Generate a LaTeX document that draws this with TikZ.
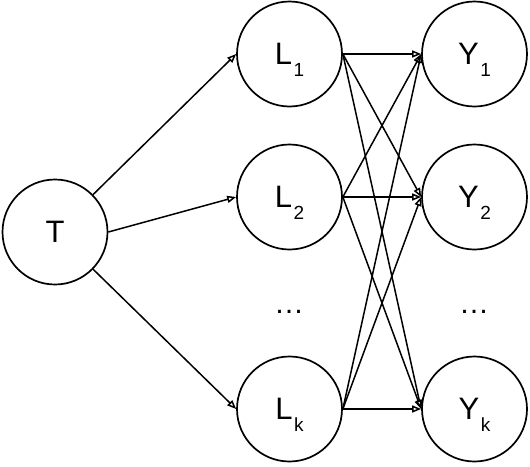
\documentclass[tikz,border=0pt]{standalone}
\usepackage{fontspec}
\setmainfont{Liberation Sans}
\usetikzlibrary{arrows.meta}
\newcommand{\lowsub}[1]{\kern1.5pt\raisebox{-12pt}[0pt][0pt]{\fontsize{19}{19}\selectfont #1}}
\tikzset{
	varnode/.style={
			circle,
			draw=black,
			line width=1.7pt,
			fill=white,
			minimum size=105pt,
			inner sep=0pt,
			font=\fontsize{31}{31}\selectfont
		},
	dotsnode/.style={
			inner sep=0pt,
			font=\fontsize{30}{30}\selectfont
		},
	arrowline/.style={
			line width=1.5pt,
			-{Triangle[open, length=9pt, width=7pt]}
		}
}

\begin{document}
\begin{tikzpicture}[x=1pt, y=-1pt]
\useasboundingbox (0,0) rectangle (530,466);
\node[varnode] (t) at (55,232) {T};
\node[varnode] (l1) at (289.5,54) {L\lowsub{1}};
\node[varnode] (l2) at (289.5,197) {L\lowsub{2}};
\node[varnode] (lk) at (289.5,409) {L\lowsub{k}};
\node[varnode] (y1) at (474.5,54) {Y\lowsub{1}};
\node[varnode] (y2) at (474.5,197) {Y\lowsub{2}};
\node[varnode] (yk) at (474.5,409) {Y\lowsub{k}};
\node[dotsnode] (ldots) at (289,312) {…};
\node[dotsnode] (ydots) at (474,312) {…};

\draw[arrowline] (t) -- (l1.west);
\draw[arrowline] (t.east) -- (l2.west);
\draw[arrowline] (t) -- (lk.west);

\draw[arrowline] (l1.east) -- (y1.west);
\draw[arrowline] (l1.east) -- (y2.west);
\draw[arrowline] (l1.east) -- (yk.west);

\draw[arrowline] (l2.east) -- (y1.west);
\draw[arrowline] (l2.east) -- (y2.west);
\draw[arrowline] (l2.east) -- (yk.west);

\draw[arrowline] (lk.east) -- (y1.west);
\draw[arrowline] (lk.east) -- (y2.west);
\draw[arrowline] (lk.east) -- (yk.west);
\end{tikzpicture}
\end{document}
